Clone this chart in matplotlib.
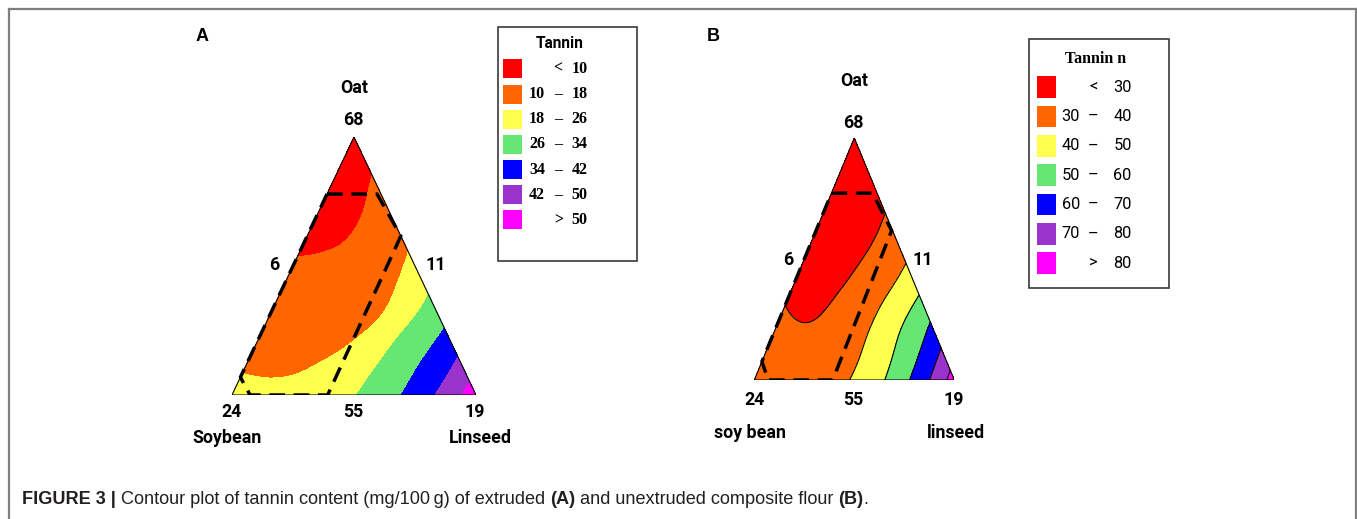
import numpy as np
import matplotlib
matplotlib.use('Agg')
import matplotlib.pyplot as plt
import matplotlib.tri as mtri
from matplotlib import font_manager
from matplotlib.patches import Rectangle
from matplotlib.lines import Line2D

# ---- data ----------------------------------------------------------------
# tannin (mg/100 g) on a simplex lattice.
# row i -> oat fraction i/12, entry j -> linseed fraction j/12 (rest soybean)
grid_n = 12
tannin_a = [
    [19.5, 19.5, 19.4, 20.0, 21.2, 23.0, 25.6, 29.0, 32.7, 37.0, 42.1, 48.1, 54.4],
    [18.0, 17.7, 17.7, 18.2, 19.4, 21.4, 24.7, 28.4, 32.2, 36.4, 41.2, 47.2],
    [16.3, 16.2, 16.3, 16.8, 17.7, 19.7, 23.3, 27.7, 31.6, 35.6, 40.6],
    [14.8, 15.0, 15.2, 15.4, 16.0, 17.7, 21.4, 26.3, 30.3, 34.6],
    [13.5, 13.9, 14.2, 14.0, 14.3, 16.0, 20.0, 24.8, 29.3],
    [12.2, 12.5, 12.5, 12.5, 13.5, 16.0, 19.9, 24.4],
    [10.7, 10.8, 11.0, 11.6, 13.4, 16.4, 20.2],
    [9.2, 9.6, 10.1, 11.4, 13.8, 17.0],
    [8.2, 8.9, 9.7, 11.6, 14.4],
    [7.1, 8.1, 9.8, 12.4],
    [6.0, 7.9, 10.5],
    [5.7, 8.2],
    [5.5],
]
tannin_b = [
    [33.0, 33.5, 33.8, 34.6, 36.1, 38.0, 41.0, 45.5, 51.0, 57.6, 65.6, 74.5, 84.6],
    [31.9, 32.2, 32.4, 33.2, 34.8, 37.3, 41.0, 45.9, 51.6, 58.1, 66.0, 75.2],
    [31.2, 31.2, 31.2, 32.1, 34.1, 37.2, 41.5, 46.7, 52.5, 58.8, 66.6],
    [30.6, 30.0, 29.9, 31.2, 33.6, 37.1, 41.6, 46.9, 52.6, 59.1],
    [29.6, 28.7, 29.0, 30.5, 33.1, 36.6, 40.9, 45.9, 51.6],
    [27.6, 27.5, 28.2, 29.7, 32.3, 35.6, 39.7, 44.7],
    [25.7, 26.2, 27.2, 28.9, 31.4, 34.7, 38.9],
    [24.1, 25.0, 26.3, 28.2, 30.9, 34.5],
    [22.8, 24.0, 25.6, 27.8, 30.9],
    [21.8, 23.3, 25.3, 28.0],
    [21.3, 23.2, 25.7],
    [21.4, 23.8],
    [22.0],
]
bounds_a = [10, 18, 26, 34, 42, 50]
bounds_b = [30, 40, 50, 60, 70, 80]
legend_title_a = 'Tannin'
legend_title_b = 'Tannin n'

# constrained design region, as (oat, linseed) fractions
region_a = [(0.779, 0.0), (0.779, 0.205), (0.616, 0.384), (0.0, 0.392), (0.0, 0.074), (0.069, 0.0)]
region_b = [(0.772, 0.0), (0.772, 0.206), (0.617, 0.378), (0.0, 0.392), (0.0, 0.070), (0.076, 0.0)]

components_a = ['Oat', 'Soybean', 'Linseed']
components_b = ['Oat', 'soy bean', 'linseed']
# apex, left side, right side, bottom-left, bottom-middle, bottom-right
edge_labels = ['68', '6', '11', '24', '55', '19']

caption = [('FIGURE 3 |', 'bold'),
           ('Contour plot of tannin content (mg/100\u2009g) of extruded', 'normal'),
           ('(A)', 'bold'),
           ('and unextruded composite flour', 'normal'),
           ('(B)', 'bold'),
           ('.', 'normal')]

colors = ['#ff0000', '#ff6600', '#ffff4d', '#66e673', '#0000ff', '#9933cc', '#ff00ff']

# ---- fonts ---------------------------------------------------------------
installed = {f.name for f in font_manager.fontManager.ttflist}


def pick(*names):
    for n in names:
        if n in installed:
            return n
    return 'DejaVu Sans'


LABEL_FONT = pick('Roboto', 'Liberation Sans')
SERIF_FONT = pick('Liberation Serif', 'DejaVu Serif')
NARROW_FONT = pick('Liberation Sans Narrow', 'Roboto')
SANS_FONT = pick('Liberation Sans', 'DejaVu Sans')

W, H = 1357, 519
fig = plt.figure(figsize=(W / 100, H / 100), dpi=100)


def fx(px):
    return px / W


def fy(py):
    return 1 - py / H


def lattice(rows):
    xs, ys, zs = [], [], []
    for i, row in enumerate(rows):
        for j, v in enumerate(row):
            oat, lin = i / grid_n, j / grid_n
            xs.append(lin + oat / 2)
            ys.append(oat)
            zs.append(v)
    return np.array(xs), np.array(ys), np.array(zs)


def draw_ternary(rect, rows, bounds, region, names, offsets, lines):
    ax = fig.add_axes(rect)
    x, y, z = lattice(rows)
    tri = mtri.Triangulation(x, y)
    t2, z2 = mtri.UniformTriRefiner(tri).refine_field(z, subdiv=3)
    ax.tricontourf(t2, z2, levels=[-1e3] + bounds + [1e3], colors=colors)
    if lines:
        ax.tricontour(t2, z2, levels=bounds, colors='k', linewidths=0.8)
    ax.plot([0, 0.5, 1, 0], [0, 1, 0, 0], color='k', lw=0.8)

    rx = [lin + oat / 2 for oat, lin in region] + [region[0][1] + region[0][0] / 2]
    ry = [oat for oat, lin in region] + [region[0][0]]
    ax.plot(rx, ry, color='k', lw=2.5, ls=(0, (4.5, 2.5)), solid_capstyle='butt')

    anchors = [(0.5, 1), (0.25, 0.5), (0.75, 0.5), (0, 0), (0.5, 0), (1, 0)]
    texts = edge_labels + [names[0], names[1], names[2]]
    anchors = anchors + [(0.5, 1), (0, 0), (1, 0)]
    for t, xy, off in zip(texts, anchors, offsets):
        ax.annotate(t, xy=xy, xytext=off, textcoords='offset pixels', ha='center', va='center',
                    fontsize=12.8, fontweight='bold', family=LABEL_FONT, annotation_clip=False)
    ax.set_xlim(0, 1)
    ax.set_ylim(0, 1)
    ax.axis('off')
    return ax


draw_ternary([fx(232), fy(395), 244 / W, 258 / H], tannin_a, bounds_a, region_a, components_a,
             [(-1, 17), (-19, 1), (21, 1), (0, -17), (-1, -17), (-1, -17), (0, 49), (-5, -43), (4, -43)],
             lines=False)
draw_ternary([fx(754.3), fy(380), 200 / W, 242 / H], tannin_b, bounds_b, region_b, components_b,
             [(-1, 15), (-16, -1), (18, -1), (0, -20), (-1, -20), (-1, -20), (0, 57), (-4, -53), (2, -53)],
             lines=True)

fig.text(fx(201.7), fy(36.7), 'A', ha='center', va='center', fontsize=13, fontweight='bold', family=SANS_FONT)
fig.text(fx(713.3), fy(36.7), 'B', ha='center', va='center', fontsize=13, fontweight='bold', family=SANS_FONT)


def legend(box, title, title_xy, title_font, bounds, row0, step, sw_x, sw_size, cols, font, fsize, weight):
    x0, y0, x1, y1 = box
    fig.patches.append(Rectangle((fx(x0), fy(y1)), fx(x1 - x0), (y1 - y0) / H, transform=fig.transFigure,
                                 fill=False, ec='#3a3a3a', lw=1.2))
    fig.text(fx(title_xy[0]), fy(title_xy[1]), title, ha='center', va='center', fontweight='bold', **title_font)
    lo_x, mid_x, hi_x = cols
    n = len(bounds) + 1
    for k in range(n):
        yc = row0 + step * k
        fig.patches.append(Rectangle((fx(sw_x[0]), fy(yc + sw_size / 2)), fx(sw_x[1] - sw_x[0]), sw_size / H,
                                     transform=fig.transFigure, color=colors[k], lw=0))
        kw = dict(va='center', fontsize=fsize, fontweight=weight, family=font)
        if k == 0:
            fig.text(fx(mid_x), fy(yc), '<', ha='center', **kw)
            fig.text(fx(hi_x), fy(yc), str(bounds[0]), ha='left', **kw)
        elif k == n - 1:
            fig.text(fx(mid_x), fy(yc), '>', ha='center', **kw)
            fig.text(fx(hi_x), fy(yc), str(bounds[-1]), ha='left', **kw)
        else:
            fig.text(fx(lo_x), fy(yc), str(bounds[k - 1]), ha='right', **kw)
            fig.text(fx(mid_x), fy(yc), '\u2013', ha='center', **kw)
            fig.text(fx(hi_x), fy(yc), str(bounds[k]), ha='left', **kw)


legend((498, 27, 637, 261), legend_title_a, (560, 43.5), dict(family=LABEL_FONT, fontsize=11.2),
       bounds_a, 68.8, 25.2, (503.3, 522.3), 19, (545, 558.3, 571.7), SERIF_FONT, 11.5, 'bold')
legend((1029, 39, 1169, 288.3), legend_title_b, (1095.7, 59), dict(family=SERIF_FONT, fontsize=11.5),
       bounds_b, 87.3, 29.3, (1037.3, 1056), 21.7, (1080, 1093.3, 1113.3), NARROW_FONT, 11.8, 'normal')

# open frame (left, top, right)
for xs, ys in [([8.5, 8.5], [519, 8.5]), ([8.5, 1355.5], [8.5, 8.5]), ([1355.5, 1355.5], [8.5, 519])]:
    fig.lines.append(Line2D([fx(v) for v in xs], [fy(v) for v in ys], transform=fig.transFigure,
                            color='#7f7f7f', lw=1.6))

# caption, laid out piece by piece and fitted to its width in the reference
renderer = fig.canvas.get_renderer()


def layout_caption(size, draw):
    x = 22.0
    sp = None
    for k, (txt, weight) in enumerate(caption):
        t = fig.text(fx(x), fy(504.5), txt, ha='left', va='baseline', fontsize=size, fontweight=weight,
                     family=SANS_FONT, color='#231f20')
        w = t.get_window_extent(renderer).width
        if sp is None:
            a = fig.text(0, 0, 'a a', fontsize=size, family=SANS_FONT)
            b = fig.text(0, 0, 'aa', fontsize=size, family=SANS_FONT)
            sp = a.get_window_extent(renderer).width - b.get_window_extent(renderer).width
            a.remove()
            b.remove()
        if not draw:
            t.remove()
        x += w
        if k + 1 < len(caption) and caption[k + 1][0] != '.':
            x += sp
    return x - 22.0


base = 10.0
total = layout_caption(base, draw=False)
layout_caption(base * 851.0 / total, draw=True)

fig.savefig('out.png', dpi=100)
